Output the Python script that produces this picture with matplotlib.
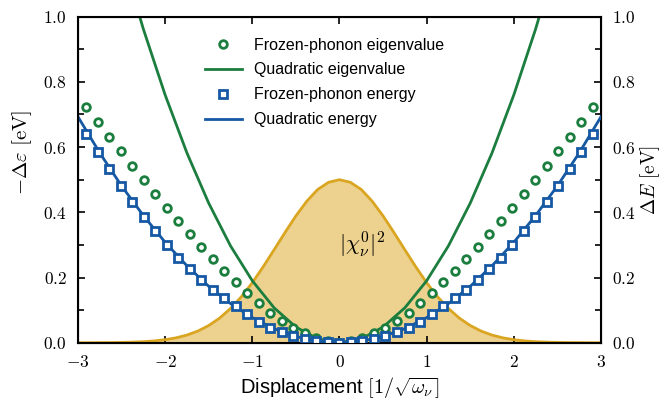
import matplotlib
matplotlib.use("Agg")
import matplotlib.pyplot as plt
from matplotlib.ticker import FuncFormatter, MultipleLocator

plt.rcParams['font.family'] = ['Liberation Sans', 'DejaVu Sans']
plt.rcParams['mathtext.fontset'] = 'cm'

# ---- frozen-phonon points ----
disp_pts = [-2.904, -2.772, -2.640, -2.508, -2.376, -2.244, -2.112, -1.980, -1.848,
            -1.716, -1.584, -1.452, -1.320, -1.188, -1.056, -0.924, -0.792, -0.660,
            -0.528, -0.396, -0.264, -0.132, 0.0, 0.132, 0.264, 0.396, 0.528, 0.660,
            0.792, 0.924, 1.056, 1.188, 1.320, 1.452, 1.584, 1.716, 1.848, 1.980,
            2.112, 2.244, 2.376, 2.508, 2.640, 2.772, 2.904]
fp_eigen = [0.724, 0.678, 0.632, 0.587, 0.543, 0.498, 0.455, 0.412, 0.372, 0.333,
            0.294, 0.257, 0.221, 0.186, 0.153, 0.123, 0.092, 0.067, 0.045, 0.029,
            0.015, 0.005, 0.000, 0.005, 0.015, 0.029, 0.045, 0.067, 0.092, 0.123,
            0.153, 0.186, 0.221, 0.257, 0.294, 0.333, 0.372, 0.412, 0.455, 0.498,
            0.543, 0.587, 0.632, 0.678, 0.724]
fp_energy = [0.641, 0.586, 0.533, 0.481, 0.433, 0.386, 0.343, 0.300, 0.260, 0.226,
             0.192, 0.162, 0.136, 0.113, 0.087, 0.063, 0.046, 0.032, 0.020, 0.010,
             0.005, 0.002, 0.000, 0.002, 0.005, 0.010, 0.020, 0.032, 0.046, 0.063,
             0.087, 0.113, 0.136, 0.162, 0.192, 0.226, 0.260, 0.300, 0.343, 0.386,
             0.433, 0.481, 0.533, 0.586, 0.641]

# ---- quadratic curves ----
disp_q = [-3.0, -2.75, -2.5, -2.25, -2.0, -1.75, -1.5, -1.25, -1.0, -0.75, -0.5, -0.25,
          0.0, 0.25, 0.5, 0.75, 1.0, 1.25, 1.5, 1.75, 2.0, 2.25, 2.5, 2.75, 3.0]
quad_energy = [0.693, 0.582, 0.481, 0.390, 0.308, 0.236, 0.173, 0.120, 0.077, 0.043,
               0.019, 0.005, 0.000, 0.005, 0.019, 0.043, 0.077, 0.120, 0.173, 0.236,
               0.308, 0.390, 0.481, 0.582, 0.693]
disp_qe = [-2.5, -2.25, -2.0, -1.75, -1.5, -1.25, -1.0, -0.75, -0.5, -0.25, 0.0,
           0.25, 0.5, 0.75, 1.0, 1.25, 1.5, 1.75, 2.0, 2.25, 2.5]
quad_eigen = [1.188, 0.962, 0.760, 0.582, 0.428, 0.297, 0.190, 0.107, 0.048, 0.012, 0.0,
              0.012, 0.048, 0.107, 0.190, 0.297, 0.428, 0.582, 0.760, 0.962, 1.188]

# ---- ground-state density |chi|^2 ----
disp_g = [-3.0, -2.875, -2.75, -2.625, -2.5, -2.375, -2.25, -2.125, -2.0, -1.875, -1.75,
          -1.625, -1.5, -1.375, -1.25, -1.125, -1.0, -0.875, -0.75, -0.625, -0.5, -0.375,
          -0.25, -0.125, 0.0, 0.125, 0.25, 0.375, 0.5, 0.625, 0.75, 0.875, 1.0, 1.125,
          1.25, 1.375, 1.5, 1.625, 1.75, 1.875, 2.0, 2.125, 2.25, 2.375, 2.5, 2.625,
          2.75, 2.875, 3.0]
chi2 = [0.0001, 0.0001, 0.0003, 0.0005, 0.0010, 0.0018, 0.0032, 0.0055, 0.0092, 0.0149,
        0.0234, 0.0357, 0.0527, 0.0755, 0.105, 0.141, 0.184, 0.233, 0.285, 0.338, 0.389,
        0.434, 0.470, 0.492, 0.500, 0.492, 0.470, 0.434, 0.389, 0.338, 0.285, 0.233,
        0.184, 0.141, 0.105, 0.0755, 0.0527, 0.0357, 0.0234, 0.0149, 0.0092, 0.0055,
        0.0032, 0.0018, 0.0010, 0.0005, 0.0003, 0.0001, 0.0001]

green = '#1b7d3e'
blue = '#1558a3'
gold = '#daa520'

fig = plt.figure(figsize=(6.62, 4.03), dpi=100)
ax = fig.add_axes([0.1178, 0.1496, 0.790, 0.8090])

ax.fill_between(disp_g, chi2, 0, color=gold, alpha=0.5, lw=0, zorder=1)
ax.plot(disp_g, chi2, color=gold, lw=2, zorder=2)

ax.plot(disp_pts, fp_eigen, 'o', color=green, mfc='white', mec=green, ms=5.5, mew=2,
        label='Frozen-phonon eigenvalue', zorder=4)
ax.plot(disp_qe, quad_eigen, '-', color=green, lw=2, label='Quadratic eigenvalue', zorder=3)
ax.plot(disp_pts, fp_energy, 's', color=blue, mfc='white', mec=blue, ms=5.5, mew=2,
        label='Frozen-phonon energy', zorder=6)
ax.plot(disp_q, quad_energy, '-', color=blue, lw=2, label='Quadratic energy', zorder=5)

ax.text(0.26, 0.30, r'$|\chi_\nu^0|^2$', fontsize=16, ha='center', va='center')

ax.set_xlim(-3, 3)
ax.set_ylim(0, 1)
ax.xaxis.set_major_locator(MultipleLocator(1))
ax.yaxis.set_major_locator(MultipleLocator(0.2))
ax.yaxis.set_minor_locator(MultipleLocator(0.1))

ax.xaxis.set_major_formatter(FuncFormatter(lambda v, p: r'$%d$' % round(v)))
ax.yaxis.set_major_formatter(FuncFormatter(lambda v, p: r'$%.1f$' % v))
ax.tick_params(which='both', direction='in', top=True, right=True, width=1.2,
               labelsize=12.5, pad=8)
ax.tick_params(which='major', length=5)
ax.tick_params(which='minor', length=4)
for s in ax.spines.values():
    s.set_linewidth(1.5)

ax.set_xlabel(r'Displacement $[1/\sqrt{\omega_\nu}]$', fontsize=14.5)
ax.set_ylabel(r'$-\Delta\varepsilon\ [\mathrm{eV}]$', fontsize=15)
ax.yaxis.set_label_coords(-0.085, 0.585)

ax2 = ax.twinx()
ax2.set_ylim(0, 1)
ax2.yaxis.set_major_locator(MultipleLocator(0.2))
ax2.yaxis.set_minor_locator(MultipleLocator(0.1))
ax2.yaxis.set_major_formatter(FuncFormatter(lambda v, p: r'$%.1f$' % v))
ax2.tick_params(which='both', direction='in', width=1.2, labelsize=12.5, pad=8)
ax2.tick_params(which='major', length=5)
ax2.tick_params(which='minor', length=4)
ax2.set_ylabel(r'$\Delta E\ [\mathrm{eV}]$', fontsize=14, labelpad=2)

ax.legend(loc='upper left', bbox_to_anchor=(0.215, 0.98), frameon=False, numpoints=1,
          fontsize=11.5, handlelength=2.3, labelspacing=0.62)

fig.savefig('out.png', dpi=100)
